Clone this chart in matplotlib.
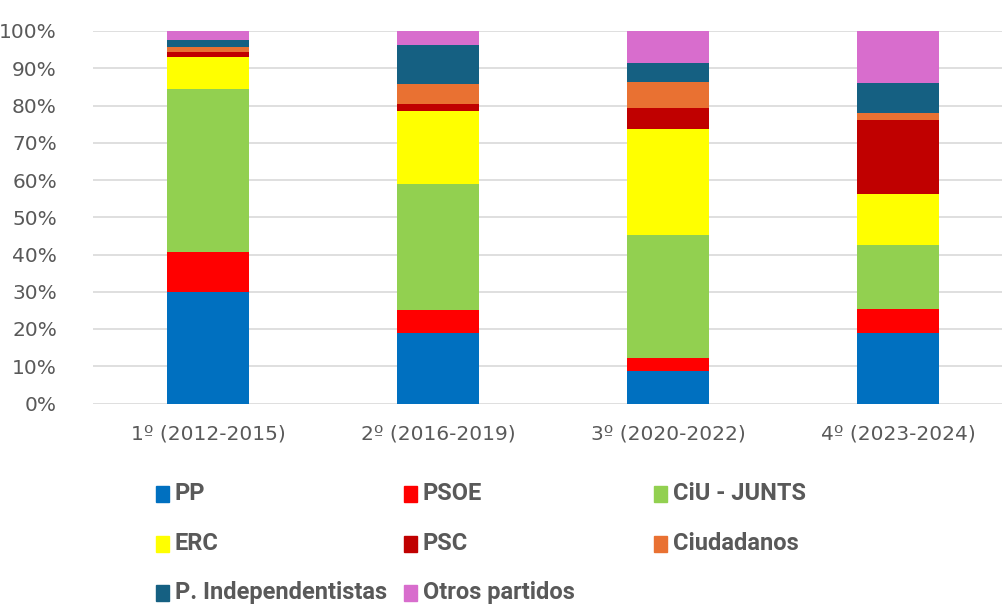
import matplotlib
matplotlib.use("Agg")
import matplotlib.pyplot as plt
from matplotlib.patches import Rectangle
import numpy as np


periods = ["1º (2012-2015)", "2º (2016-2019)", "3º (2020-2022)", "4º (2023-2024)"]
parties = ["PP", "PSOE", "CiU - JUNTS", "ERC", "PSC", "Ciudadanos",
           "P. Independentistas", "Otros partidos"]
colors = ["#0070C0", "#FF0000", "#92D050", "#FFFF00", "#C00000", "#E97132",
          "#156082", "#D86DCD"]

# share of each party per legislature (%)
pp = [29.8, 18.8, 8.8, 18.8]
psoe = [11.0, 6.4, 3.5, 6.7]
ciu = [43.7, 33.8, 33.0, 17.1]
erc = [8.6, 19.6, 28.5, 13.7]
psc = [1.3, 1.7, 5.4, 19.8]
cs = [1.3, 5.4, 7.1, 1.9]
indep = [1.8, 10.5, 5.2, 8.1]
otros = [2.5, 3.8, 8.5, 13.9]
series = [pp, psoe, ciu, erc, psc, cs, indep, otros]

TXT = "#595959"
W, H = 1003, 604

fig = plt.figure(figsize=(W / 100, H / 100), dpi=100)
ax = fig.add_axes([93 / W, 1 - 403.5 / H, 920 / W, 372.5 / H])

x = np.arange(len(periods))
bottom = np.zeros(len(periods))
for vals, color in zip(series, colors):
    ax.bar(x, vals, bottom=bottom, width=0.355, color=color, zorder=3)
    bottom += np.array(vals)

ax.set_xlim(-0.5, 3.5)
ax.set_ylim(0, 100)
ax.set_yticks(np.arange(0, 101, 10))
ax.set_yticklabels([f"{v}%" for v in range(0, 101, 10)])
ax.set_xticks(x)
ax.set_xticklabels(periods)
ax.tick_params(axis="both", length=0, labelsize=14.5, colors=TXT)
ax.tick_params(axis="y", pad=26)
ax.tick_params(axis="x", pad=15)
ax.grid(axis="y", color="#D9D9D9", linewidth=1.2, zorder=0)
for s in ax.spines.values():
    s.set_visible(False)

# legend laid out like the spreadsheet: equal-width columns, row-major
col_x = [156, 404, 654]
row_y = [494, 544, 593]
for i, (label, color) in enumerate(zip(parties, colors)):
    cx = col_x[i % 3]
    cy = row_y[i // 3]
    fig.patches.append(Rectangle((cx / W, 1 - (cy + 8) / H), 13 / W, 16 / H,
                                 transform=fig.transFigure, color=color))
    fig.text((cx + 19) / W, 1 - cy / H, label, ha="left", va="center",
             fontsize=17, fontweight="bold", color=TXT,
             family=["Roboto", "DejaVu Sans"])

fig.savefig("out.png", dpi=100)
